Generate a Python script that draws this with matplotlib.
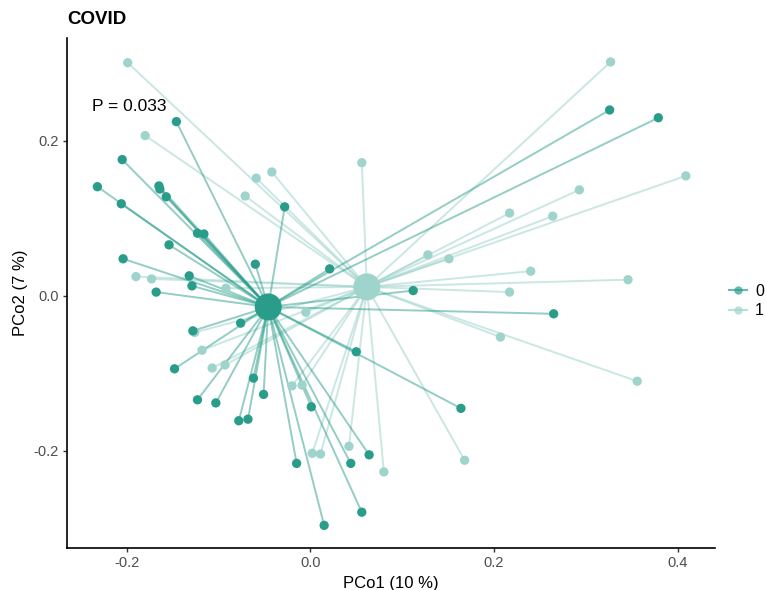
import numpy as np
import matplotlib.pyplot as plt
from matplotlib.lines import Line2D

plt.rcParams['font.family'] = ['Liberation Sans', 'DejaVu Sans']

# ----- data (PCoA scores) -----
g0_x = [-0.146, -0.205, -0.232, -0.206, -0.165, -0.164, -0.157, -0.123, -0.116, -0.028,
        -0.154, -0.204, -0.132, -0.129, -0.168, -0.060, -0.128, -0.076, -0.148, -0.062,
        -0.051, -0.123, -0.103, -0.078, -0.068, 0.001, -0.015, 0.044, 0.064, 0.056,
        0.015, 0.021, 0.112, 0.265, 0.050, 0.164, 0.326, 0.379]
g0_y = [0.225, 0.176, 0.141, 0.119, 0.142, 0.138, 0.128, 0.081, 0.080, 0.115,
        0.066, 0.048, 0.026, 0.013, 0.005, 0.041, -0.045, -0.035, -0.094, -0.106,
        -0.127, -0.134, -0.138, -0.161, -0.159, -0.143, -0.216, -0.216, -0.205, -0.279,
        -0.296, 0.035, 0.007, -0.023, -0.072, -0.145, 0.240, 0.230]

g1_x = [-0.199, -0.180, -0.059, -0.042, -0.071, -0.190, -0.173, -0.092, -0.126, -0.118,
        -0.107, -0.093, -0.005, -0.020, -0.009, 0.002, 0.011, 0.042, 0.080, 0.327,
        0.056, 0.217, 0.264, 0.293, 0.409, 0.128, 0.151, 0.240, 0.346, 0.217,
        0.207, 0.356, 0.168]
g1_y = [0.301, 0.207, 0.152, 0.160, 0.129, 0.025, 0.022, 0.010, -0.047, -0.070,
        -0.093, -0.089, -0.021, -0.116, -0.115, -0.203, -0.204, -0.194, -0.227, 0.302,
        0.172, 0.107, 0.103, 0.137, 0.155, 0.053, 0.048, 0.032, 0.021, 0.005,
        -0.053, -0.110, -0.212]

groups = ["0", "1"]
p_text = "P = 0.033"

col0 = "#2a9d8a"
col1 = "#9fd4cc"

# ----- plot -----
fig = plt.figure(figsize=(7.66, 5.9), dpi=100)
ax = fig.add_axes([0.0875, 0.0712, 0.8455, 0.8644])

data = [(np.array(g0_x), np.array(g0_y), col0, 0.5),
        (np.array(g1_x), np.array(g1_y), col1, 0.55)]

# spokes first, group 1 under group 0
for xs, ys, c, a in data[::-1]:
    cx, cy = xs.mean(), ys.mean()
    for x, y in zip(xs, ys):
        ax.plot([cx, x], [cy, y], color=c, alpha=a, lw=1.4,
                solid_capstyle="butt", zorder=1)

for xs, ys, c, a in data[::-1]:
    ax.scatter(xs, ys, s=45, color=c, edgecolor="none", zorder=3)
    ax.scatter([xs.mean()], [ys.mean()], s=380, color=c, edgecolor="none", zorder=4)

ax.text(-0.238, 0.245, p_text, fontsize=12.5, ha="left", va="center", color="black")

ax.set_xlim(-0.2651, 0.4404)
ax.set_ylim(-0.3252, 0.3329)
ax.set_xticks([-0.2, 0.0, 0.2, 0.4])
ax.set_xticklabels(["-0.2", "0.0", "0.2", "0.4"])
ax.set_yticks([-0.2, 0.0, 0.2])
ax.set_yticklabels(["-0.2", "0.0", "0.2"])
ax.tick_params(length=3, width=1, color="#333333", labelcolor="#4d4d4d", labelsize=10.5, pad=3)

for s in ["top", "right"]:
    ax.spines[s].set_visible(False)
for s in ["left", "bottom"]:
    ax.spines[s].set_linewidth(1.2)

ax.set_xlabel("PCo1 (10 %)", fontsize=12, labelpad=4)
ax.set_ylabel("PCo2 (7 %)", fontsize=12, labelpad=4)
ax.set_title("COVID", fontsize=13.5, fontweight="bold", loc="left", pad=10)

handles = [Line2D([0], [0], color=c, lw=1.5, alpha=0.7, marker="o", markersize=6,
                  markerfacecolor=c, markeredgecolor="none") for c in (col0, col1)]
fig.legend(handles, groups, loc="center left", bbox_to_anchor=(0.944, 0.49),
           frameon=False, handlelength=1.1, handletextpad=0.5, fontsize=11.5,
           labelspacing=0.3, borderaxespad=0)

fig.savefig("out.png", dpi=100)
